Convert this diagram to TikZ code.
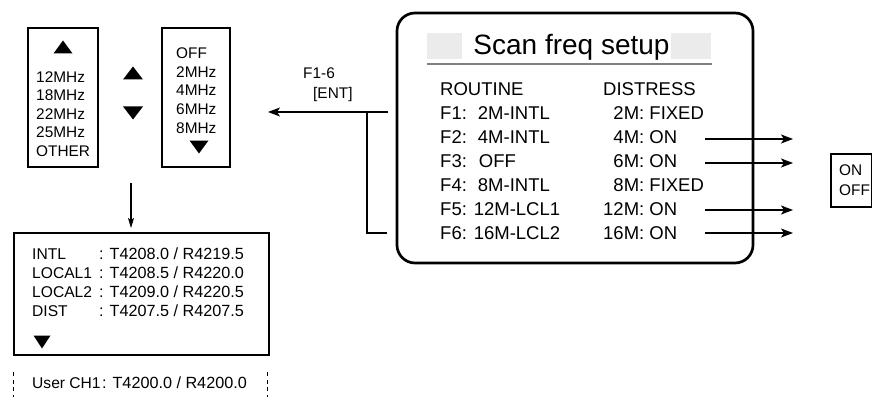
\documentclass[tikz,border=0pt]{standalone}
\usepackage{fontspec}
\setmainfont{Liberation Sans}
\usetikzlibrary{arrows.meta}
\begin{document}
\begin{tikzpicture}[x=1pt,y=-1pt,
  txt/.style={inner sep=0pt,anchor=base west},
  fa/.style={txt,font=\fontsize{15.4}{17}\selectfont},
  fb/.style={txt,font=\fontsize{15.6}{18}\selectfont},
  fv/.style={txt,font=\fontsize{16.2}{18}\selectfont},
  fc/.style={txt,font=\fontsize{18.5}{20}\selectfont},
  thinbox/.style={draw=black,line width=1.3pt},
  conn/.style={draw=black,line width=1.3pt},
  arr/.style={conn,-{Stealth[length=12pt,width=9pt,inset=3pt]}},
  darr/.style={conn,-{Stealth[length=10pt,width=6pt,inset=2pt]}},
  dashline/.style={line width=1pt,dash pattern=on 4pt off 3.5pt},
]
\useasboundingbox (0,0) rectangle (872,401);
% triangles
\newcommand{\myup}[3]{\fill[shift={(#1,#2)}] (-#3,6.5) -- (#3,6.5) -- (0,-6.5) -- cycle;}
\newcommand{\mydown}[3]{\fill[shift={(#1,#2)}] (-#3,-6.5) -- (#3,-6.5) -- (0,6.5) -- cycle;}

% Box A
\draw[thinbox] (28,28) rectangle (98,167);
\myup{63}{47}{9.5}
\node[fa] (a1) at (36,82.5) {12MHz};
\node[fa] (a2) at (36,101) {18MHz};
\node[fa] (a3) at (36,119.5) {22MHz};
\node[fa] (a4) at (36,138) {25MHz};
\node[fa] (a5) at (36,156.5) {OTHER};

% middle triangles
\myup{133}{73}{10}
\mydown{133}{113}{10}

% Box B
\draw[thinbox] (162,28) rectangle (230,167);
\node[fa] (b1) at (176,58.5) {OFF};
\node[fa] (b2) at (176,77.5) {2MHz};
\node[fa] (b3) at (176,96) {4MHz};
\node[fa] (b4) at (176,114.5) {6MHz};
\node[fa] (b5) at (176,133.5) {8MHz};
\mydown{199}{147}{9.5}

% down arrow
\coordinate (dtop) at (131,183);
\coordinate (dbot) at (131,228);
\draw[darr] (dtop) -- (dbot);

% lower box
\draw[thinbox] (14,233) rectangle (269,355);
\node[fb] (l1) at (32,259.9) {INTL};
\node[fb] (l2) at (32,278.9) {LOCAL1};
\node[fb] (l3) at (32,297.9) {LOCAL2};
\node[fb] (l4) at (32,316.9) {DIST};
\node[fv] (v1) at (99,259.9) {: T4208.0 / R4219.5};
\node[fv] (v2) at (99,278.9) {: T4208.5 / R4220.0};
\node[fv] (v3) at (99,297.9) {: T4209.0 / R4220.5};
\node[fv] (v4) at (99,316.9) {: T4207.5 / R4207.5};
\mydown{42}{342}{8.5}

% user channel
\draw[dashline] (13,372) -- (13,397);
\draw[dashline] (267,372) -- (267,397);
\node[fb] (u1) at (32,388.9) {User CH1};
\node[fv,anchor=base east] (u2) at (247,388.9) {: T4200.0 / R4200.0};

% F1-6 label
\node[fa] (k1) at (303,78.5) {F1-6};
\node[fa] (k2) at (313,98.5) {[ENT]};

% main rounded box
\draw[line width=2.7pt,rounded corners=18pt] (397,13) rectangle (753,263);
\fill[black!8] (427,33) rectangle (462,59);
\fill[black!8] (671,33) rectangle (711,59);
\node[inner sep=0pt,anchor=base,font=\fontsize{28}{30}\selectfont] (title) at (571.5,55) {Scan freq setup};
\draw[draw=black!50,line width=1.6pt] (427,64) -- (712,64);

\node[fc] (r0) at (440,95.6) {ROUTINE};
\node[fc] (r1) at (440,119.6) {F1:\hspace{11pt}2M-INTL};
\node[fc] (r2) at (440,143.6) {F2:\hspace{11pt}4M-INTL};
\node[fc] (r3) at (440,167.6) {F3:\hspace{12pt}OFF};
\node[fc] (r4) at (440,191.6) {F4:\hspace{11pt}8M-INTL};
\node[fc] (r5) at (440,215.6) {F5: 12M-LCL1};
\node[fc] (r6) at (440,239.6) {F6: 16M-LCL2};

\node[fc] (d0) at (603,95.6) {DISTRESS};
\node[fc] (d1) at (603,119.6) {\phantom{1}2M: FIXED};
\node[fc] (d2) at (603,143.6) {\phantom{1}4M: ON};
\node[fc] (d3) at (603,167.6) {\phantom{1}6M: ON};
\node[fc] (d4) at (603,191.6) {\phantom{1}8M: FIXED};
\node[fc] (d5) at (603,215.6) {12M: ON};
\node[fc] (d6) at (603,239.6) {16M: ON};

% bracket and left arrow
\coordinate (bt) at (388,112);
\coordinate (bv) at (367,112);
\coordinate (bb) at (367,233);
\coordinate (be) at (387,233);
\coordinate (tip) at (268,112);
\draw[arr] (bt) -- (tip);
\draw[conn] (bv) -- (bb) -- (be);

% right arrows
\coordinate (s2) at (705,139); \coordinate (e2) at (793,139);
\coordinate (s3) at (705,163); \coordinate (e3) at (793,163);
\coordinate (s5) at (705,210); \coordinate (e5) at (793,210);
\coordinate (s6) at (705,233); \coordinate (e6) at (793,233);
\draw[arr] (s2) -- (e2);
\draw[arr] (s3) -- (e3);
\draw[arr] (s5) -- (e5);
\draw[arr] (s6) -- (e6);

% ON/OFF box
\draw[thinbox] (831,154) -- (871.3,154) -- (871.3,207) -- (831,207) -- cycle;
\node[fa] (o1) at (839,175.5) {ON};
\node[fa] (o2) at (839,195.5) {OFF};
\end{tikzpicture}
\end{document}
